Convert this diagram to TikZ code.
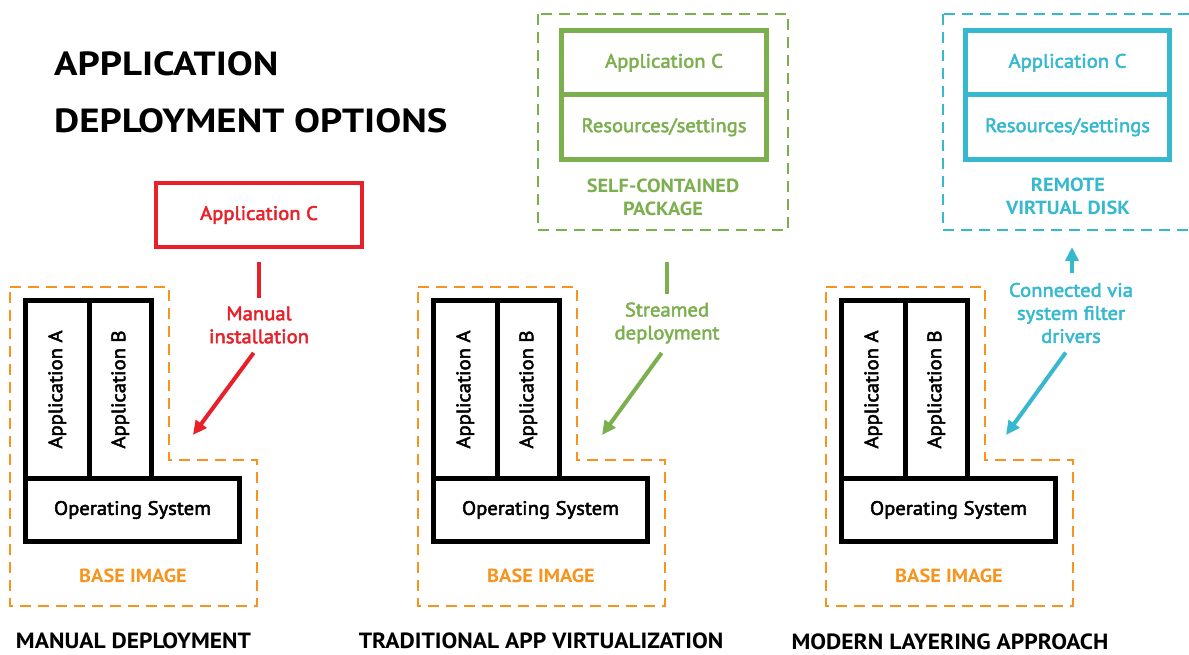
\documentclass[tikz,border=0pt]{standalone}
\usepackage{fontspec}
\setmainfont{PT Sans}
\newfontfamily\bodyf[FakeStretch=1.06, FakeBold=2.5]{PT Sans}
\newfontfamily\headf[FakeStretch=1.07]{PT Sans}
\newfontfamily\titlef[FakeStretch=1.16]{PT Sans}
\usetikzlibrary{arrows.meta}
\definecolor{cred}{HTML}{E8202A}
\definecolor{cgreen}{HTML}{7CAF4E}
\definecolor{cblue}{HTML}{36B9CF}
\definecolor{corange}{HTML}{F7941D}
\tikzset{
  dashline/.style={line width=2.8pt, dash pattern=on 11pt off 7pt},
  blkbox/.style={draw=black, line width=5pt, inner sep=0pt, font=\bodyf\fontsize{19.5}{22}\selectfont},
  lbl/.style={font=\bodyf\fontsize{19.5}{23}\selectfont, align=center, inner sep=2pt},
  hlbl/.style={font=\headf\bfseries\fontsize{19}{23}\selectfont, align=center, inner sep=2pt},
  ttl/.style={font=\headf\bfseries\fontsize{22}{24}\selectfont, inner sep=0pt},
  arr/.style={line width=4pt, -{Triangle[length=14pt,width=13pt]}},
  conn/.style={line width=4pt}
}
\newcommand{\basecolumn}[2]{%
  \begin{scope}[xshift=#2]
    \draw[corange, dashline] (10,287) -- (169,287) -- (169,460) -- (257,460) -- (257,606) -- (10,606) -- cycle;
    \node[blkbox, minimum width=63.5pt, minimum height=178pt] (appA#1) at (57.25,389.5) {\rotatebox{90}{Application A}};
    \node[blkbox, minimum width=62.5pt, minimum height=178pt] (appB#1) at (120.25,389.5) {\rotatebox{90}{Application B}};
    \node[blkbox, minimum width=214pt, minimum height=63pt] (os#1) at (132.5,510) {Operating System};
    \node[hlbl, text=corange] (base#1) at (133,576) {BASE IMAGE};
  \end{scope}}
\begin{document}
\begin{tikzpicture}[x=1pt, y=-1pt]
  \clip (0,0) rectangle (1189,655);
  \fill[white] (0,0) rectangle (1189,655);
  % title
  \node[font=\titlef\bfseries\fontsize{33.5}{57}\selectfont, align=left, anchor=west, inner sep=0pt] (title) at (54,92) {APPLICATION\\DEPLOYMENT OPTIONS};
  % base columns
  \basecolumn{1}{0pt}
  \basecolumn{2}{408pt}
  \basecolumn{3}{816pt}
  % column titles
  \node[ttl] (t1) at (133.5,641) {MANUAL DEPLOYMENT};
  \node[ttl] (t2) at (541,641) {TRADITIONAL APP VIRTUALIZATION};
  \node[ttl] (t3) at (950,642) {MODERN LAYERING APPROACH};
  % manual deployment
  \node[draw=cred, line width=4pt, minimum width=206pt, minimum height=64pt, lbl, text=cred, inner sep=0pt] (redC) at (259,215) {Application C};
  \node[lbl, text=cred] (manlbl) at (259,325) {Manual\\installation};
  \coordinate (re) at (193,435);
  \draw[cred, conn, shorten <=13pt, shorten >=6pt] (redC.south) -- (manlbl.north);
  \draw[cred, arr, shorten <=9pt] (manlbl.south) -- (re);
  % traditional app virtualization
  \draw[cgreen, dashline] (538,14) rectangle (788,230);
  \node[draw=cgreen, line width=5pt, minimum width=205pt, minimum height=64.5pt, lbl, text=cgreen, inner sep=0pt] (greenC) at (664,62.75) {Application C};
  \node[draw=cgreen, line width=5pt, minimum width=205pt, minimum height=64.5pt, lbl, text=cgreen, inner sep=0pt] (greenR) at (664,127.25) {Resources/settings};
  \node[hlbl, text=cgreen] (pkg) at (663,197) {SELF-CONTAINED\\PACKAGE};
  \node[lbl, text=cgreen] (strlbl) at (667,323) {Streamed\\deployment};
  \coordinate (gs) at (667,262);
  \coordinate (ge) at (602,435);
  \draw[cgreen, conn, shorten >=6pt] (gs) -- (strlbl.north);
  \draw[cgreen, arr, shorten <=9pt] (strlbl.south) -- (ge);
  % modern layering
  \draw[cblue, dashline] (943,14) rectangle (1210,230);
  \node[draw=cblue, line width=5pt, minimum width=204pt, minimum height=64.5pt, lbl, text=cblue, inner sep=0pt] (blueC) at (1067.5,62.75) {Application C};
  \node[draw=cblue, line width=5pt, minimum width=204pt, minimum height=64.5pt, lbl, text=cblue, inner sep=0pt] (blueR) at (1067.5,127.25) {Resources/settings};
  \node[hlbl, text=cblue] (disk) at (1068,196) {REMOTE\\VIRTUAL DISK};
  \node[lbl, text=cblue] (conlbl) at (1071,313) {Connected via\\system filter\\drivers};
  \coordinate (bu) at (1072,247);
  \coordinate (be) at (1006,435);
  \draw[cblue, arr, shorten <=8pt] (conlbl.north -| bu) -- (bu);
  \draw[cblue, arr, shorten <=9pt] (conlbl.south) -- (be);
\end{tikzpicture}
\end{document}
